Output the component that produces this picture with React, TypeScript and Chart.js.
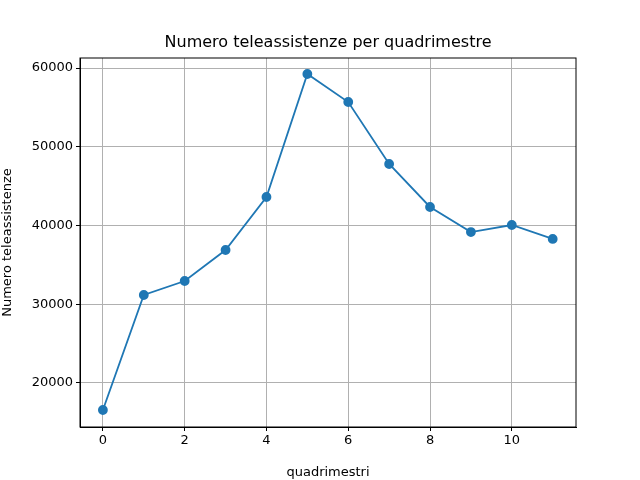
import React, { useEffect, useRef } from 'react';
import { Chart } from 'chart.js/auto';

const quadrimestri = [0, 1, 2, 3, 4, 5, 6, 7, 8, 9, 10, 11];
const teleassistenze = [16570, 31170, 32950, 36890, 43620, 59240, 55680, 47810, 42350, 39170, 40060, 38290];
const xTicks = [0, 2, 4, 6, 8, 10];
const yTicks = [20000, 30000, 40000, 50000, 60000];
const titolo = 'Numero teleassistenze per quadrimestre';

const font = { family: 'DejaVu Sans', size: 13 };

export default function App() {
    const chartRef = useRef<HTMLCanvasElement>(null);
    const chartInstance = useRef<Chart | null>(null);

    useEffect(() => {
        document.body.style.margin = '0';
        if (chartInstance.current) {
            chartInstance.current.destroy();
        }
        const ctx = chartRef.current?.getContext('2d');
        if (ctx) {
            chartInstance.current = new Chart(ctx, {
                type: 'scatter',
                data: {
                    datasets: [{
                        data: quadrimestri.map((q, i) => ({ x: q, y: teleassistenze[i] })),
                        showLine: true,
                        borderColor: '#1f77b4',
                        backgroundColor: '#1f77b4',
                        borderWidth: 1.8,
                        pointRadius: 4,
                    }],
                },
                options: {
                    animation: false,
                    responsive: false,
                    layout: { padding: { left: 0, right: 64, top: 58, bottom: 0 } },
                    plugins: {
                        legend: { display: false },
                        tooltip: { enabled: false },
                        title: { display: false },
                    },
                    scales: {
                        x: {
                            min: -0.56,
                            max: 11.57,
                            afterFit: (s: any) => { s.height = 53; },
                            afterBuildTicks: (s: any) => { s.ticks = xTicks.map(v => ({ value: v })); },
                            grid: { color: '#b0b0b0', tickColor: '#000', tickLength: 4 },
                            border: { color: '#000' },
                            ticks: { color: '#000', font, padding: 2, callback: (v: any) => String(v) },
                            title: { display: true, text: 'quadrimestri', color: '#000', font, padding: 0 },
                        },
                        y: {
                            min: 14410,
                            max: 61270,
                            afterFit: (s: any) => { s.width = 80; },
                            afterBuildTicks: (s: any) => { s.ticks = yTicks.map(v => ({ value: v })); },
                            grid: { color: '#b0b0b0', tickColor: '#000', tickLength: 4 },
                            border: { color: '#000' },
                            ticks: { color: '#000', font, padding: 3, callback: (v: any) => String(v) },
                            title: { display: true, text: 'Numero teleassistenze', color: '#000', font, padding: 0 },
                        },
                    },
                },
                plugins: [{
                    id: 'frame',
                    afterDraw: (c: any) => {
                        const { left, right, top, bottom } = c.chartArea;
                        const g = c.ctx;
                        g.save();
                        g.strokeStyle = '#000';
                        g.lineWidth = 1;
                        g.strokeRect(left, top, right - left, bottom - top);
                        g.fillStyle = '#000';
                        g.font = '16px "DejaVu Sans"';
                        g.textAlign = 'center';
                        g.textBaseline = 'middle';
                        g.fillText(titolo, (left + right) / 2, 43);
                        g.restore();
                    },
                }],
            });
        }
        return () => {
            if (chartInstance.current) {
                chartInstance.current.destroy();
            }
        };
    }, []);

    return <canvas ref={chartRef} width={640} height={480} />;
}
